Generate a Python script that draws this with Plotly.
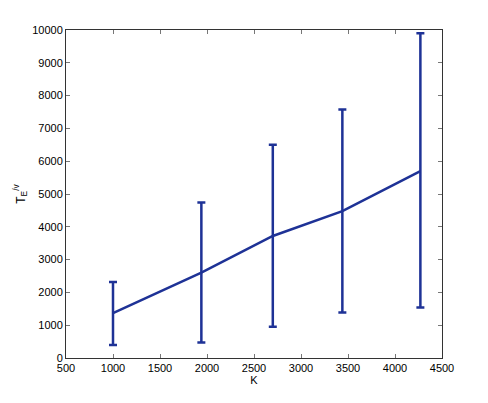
import plotly.graph_objects as go

# data
k_values = [1000, 1940, 2700, 3440, 4270]
t_mean = [1370, 2600, 3720, 4480, 5700]
t_upper = [2320, 4740, 6500, 7580, 9900]
t_lower = [400, 470, 950, 1390, 1540]

err_plus = [u - m for u, m in zip(t_upper, t_mean)]
err_minus = [m - l for m, l in zip(t_mean, t_lower)]

navy = 'rgb(30,50,150)'
font_family = 'Liberation Sans, Arial'

fig = go.Figure()

fig.add_trace(go.Scatter(
    x=k_values,
    y=t_mean,
    mode='lines',
    line=dict(color=navy, width=2.5),
    error_y=dict(
        type='data',
        symmetric=False,
        array=err_plus,
        arrayminus=err_minus,
        color=navy,
        thickness=2.5,
        width=4,
    ),
))

axis_style = dict(
    showline=True,
    linecolor='#333333',
    linewidth=1,
    mirror='allticks',
    ticks='inside',
    ticklen=4,
    tickcolor='#777777',
    showgrid=False,
    zeroline=False,
    tickformat='d',
    tickfont=dict(family=font_family, size=11, color='black'),
)

fig.update_xaxes(
    range=[500, 4500],
    dtick=500,
    title=dict(text='K', font=dict(family=font_family, size=11, color='black'), standoff=0),
    **axis_style,
)
fig.update_yaxes(
    range=[0, 10000],
    dtick=1000,
    title=dict(text='T<sub>E</sub><sup>/v</sup>', font=dict(family=font_family, size=12, color='black'), standoff=4),
    **axis_style,
)

# the page body adds an 8px margin, so the figure is sized to fit inside it
fig.update_layout(
    width=480,
    height=395,
    margin=dict(l=55, r=46, t=22, b=45),
    plot_bgcolor='white',
    paper_bgcolor='white',
    showlegend=False,
)

fig.write_html("out.html")
